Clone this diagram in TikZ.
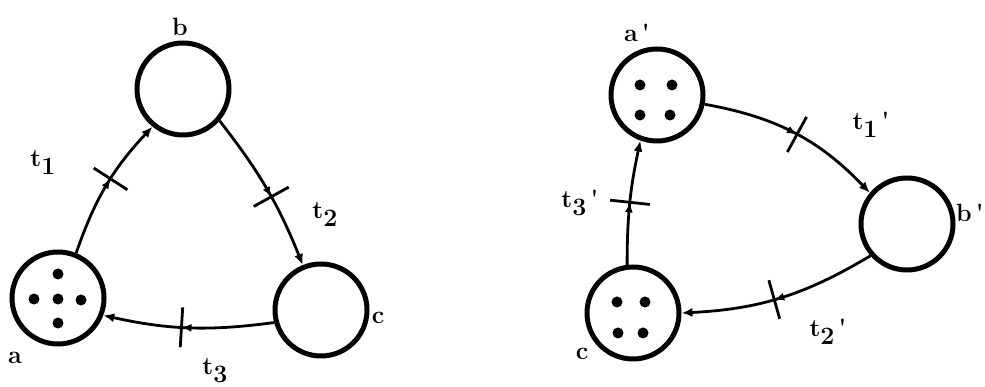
\documentclass[tikz,border=0pt]{standalone}
\usetikzlibrary{arrows.meta,decorations.markings}
\newcommand\tsub[1]{\raisebox{-8pt}{#1}}
\tikzset{
  place/.style={circle,draw,line width=5pt,minimum size=92pt,inner sep=0pt},
  arc/.style={line width=2.8pt,-{Latex[length=11pt,width=9pt]}},
  tr/.style={decoration={markings,
      mark=at position #1 with {\arrow{Latex[length=10pt,width=8pt]};
        \draw[line width=2.8pt,-] (0,-20pt) -- (0,20pt);}},
    postaction={decorate}},
  lbl/.style={font=\fontsize{25}{25}\selectfont\bfseries,inner sep=0pt}
}
\begin{document}
\begin{tikzpicture}[x=1pt,y=1pt]
\useasboundingbox (0,0) rectangle (985,387);
% left net
\node[place] (a) at (58,89) {};
\node[place] (b) at (183,298) {};
\node[place] (c) at (321,77) {};
\foreach \p in {(58,113),(34,88),(58,88),(81,87),(58,64)} \fill \p circle (5.5pt);
\draw[arc,tr=0.55] (a.68) to[bend left=12] (b.231);
\draw[arc,tr=0.55] (b.319) to[bend left=8] (c.112);
\draw[arc,tr=0.54] (c.195) to[bend left=10] (a.339);
\node[lbl] (la) at (15,29) {a};
\node[lbl] (lb) at (180,360) {b};
\node[lbl] (lc) at (378,69) {c};
\node[lbl] (lt1) at (43,224) {t\tsub{1}};
\node[lbl] (lt2) at (325,172) {t\tsub{2}};
\node[lbl] (lt3) at (215,16) {t\tsub{3}};
% right net
\node[place] (ap) at (657,292) {};
\node[place] (bp) at (907,163) {};
\node[place] (cp) at (633,74) {};
\foreach \p in {(640,302),(672,302),(640,272),(670,272),(617,85),(645,85),(618,54),(643,54)} \fill \p circle (5.5pt);
\draw[arc,tr=0.51] (ap.349) to[bend left=18] (bp.140);
\draw[arc,tr=0.53] (bp.221) to[bend left=14] (cp.0);
\draw[arc,tr=0.5] (cp.97) to[bend left=6] (ap.250);
\node[lbl] (lap) at (637,354) {a\,\textquotesingle};
\node[lbl] (lbp) at (970,174) {b\,\textquotesingle};
\node[lbl] (lcp) at (582,33) {c};
\node[lbl] (lt1p) at (871,262) {t\tsub{1}\,\textquotesingle};
\node[lbl] (lt2p) at (828,55) {t\tsub{2}\,\textquotesingle};
\node[lbl] (lt3p) at (580,184) {t\tsub{3}\,\textquotesingle};
\end{tikzpicture}
\end{document}
